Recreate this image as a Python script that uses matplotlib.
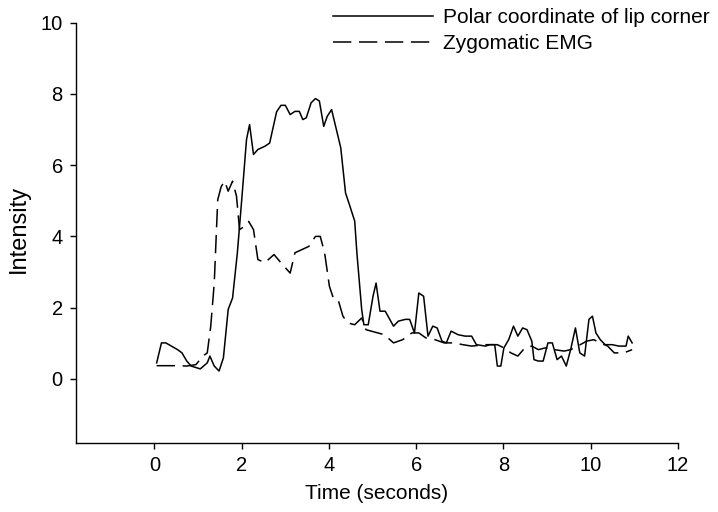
import matplotlib
matplotlib.use("Agg")
import matplotlib.pyplot as plt

plt.rcParams['font.family'] = ['Liberation Sans', 'DejaVu Sans']

# polar coordinate of lip corner (solid)
lip_time = [0.05, 0.16, 0.26, 0.53, 0.63, 0.74, 0.84, 1.05, 1.21, 1.27, 1.37, 1.48,
            1.58, 1.69, 1.79, 1.90, 2.00, 2.11, 2.18, 2.27, 2.37, 2.53, 2.64, 2.80,
            2.90, 3.00, 3.11, 3.22, 3.32, 3.40, 3.48, 3.59, 3.69, 3.78, 3.88, 3.96,
            4.06, 4.17, 4.27, 4.38, 4.48, 4.59, 4.64, 4.75, 4.80, 4.90, 5.01, 5.08,
            5.17, 5.29, 5.48, 5.59, 5.75, 5.85, 5.96, 6.06, 6.17, 6.27, 6.38, 6.48,
            6.59, 6.69, 6.80, 6.96, 7.12, 7.27, 7.38, 7.59, 7.69, 7.80, 7.86, 7.94,
            8.01, 8.12, 8.23, 8.33, 8.44, 8.54, 8.65, 8.70, 8.80, 8.91, 9.02, 9.12,
            9.23, 9.33, 9.44, 9.54, 9.65, 9.75, 9.86, 9.96, 10.04, 10.12, 10.22,
            10.33, 10.49, 10.65, 10.81, 10.86, 10.95]
lip_value = [0.45, 1.01, 1.01, 0.82, 0.73, 0.50, 0.36, 0.28, 0.45, 0.64, 0.36, 0.22,
             0.59, 1.95, 2.27, 3.54, 5.03, 6.72, 7.14, 6.30, 6.44, 6.53, 6.62, 7.50,
             7.68, 7.68, 7.42, 7.51, 7.51, 7.28, 7.33, 7.75, 7.87, 7.80, 7.09, 7.37,
             7.56, 7.00, 6.49, 5.22, 4.85, 4.43, 3.54, 1.95, 1.52, 1.52, 2.32, 2.69,
             1.90, 1.90, 1.48, 1.62, 1.67, 1.67, 1.29, 2.41, 2.32, 1.20, 1.48, 1.43,
             1.06, 1.01, 1.34, 1.24, 1.20, 1.20, 0.96, 0.92, 0.96, 0.96, 0.36, 0.36,
             0.87, 1.10, 1.48, 1.20, 1.43, 1.38, 1.06, 0.54, 0.50, 0.50, 1.01, 1.01,
             0.54, 0.64, 0.36, 0.82, 1.43, 0.73, 0.64, 1.67, 1.76, 1.29, 1.10,
             0.96, 0.96, 0.92, 0.92, 1.20, 1.01]

# zygomatic EMG (dashed)
emg_time = [0.05, 0.53, 0.74, 0.95, 1.11, 1.21, 1.29, 1.37, 1.45, 1.53, 1.61, 1.69,
            1.79, 1.88, 1.95, 2.06, 2.16, 2.27, 2.37, 2.53, 2.74, 2.90, 3.11, 3.22,
            3.38, 3.54, 3.69, 3.80, 3.90, 4.01, 4.11, 4.22, 4.32, 4.43, 4.59, 4.75,
            4.85, 5.12, 5.27, 5.48, 5.69, 5.90, 6.06, 6.22, 6.43, 6.64, 6.86, 7.07,
            7.27, 7.59, 7.86, 8.01, 8.17, 8.33, 8.49, 8.65, 8.80, 8.96, 9.17, 9.39,
            9.54, 9.70, 9.91, 10.07, 10.22, 10.39, 10.54, 10.76, 10.95]
emg_value = [0.37, 0.37, 0.36, 0.40, 0.64, 0.73, 1.48, 2.69, 5.03, 5.40, 5.55, 5.27,
             5.55, 5.13, 4.19, 4.28, 4.42, 4.19, 3.35, 3.26, 3.49, 3.26, 2.97, 3.54,
             3.63, 3.72, 4.00, 4.00, 3.54, 2.60, 2.23, 2.18, 1.76, 1.57, 1.52, 1.71,
             1.38, 1.29, 1.24, 1.01, 1.10, 1.29, 1.29, 1.15, 1.10, 1.01, 1.01, 0.96,
             0.92, 0.96, 0.96, 0.87, 0.73, 0.64, 0.87, 0.92, 0.82, 0.87, 0.82, 0.78,
             0.82, 0.92, 1.06, 1.10, 1.01, 0.92, 0.73, 0.73, 0.82]

x_ticks = [0, 2, 4, 6, 8, 10, 12]
y_ticks = [0, 2, 4, 6, 8, 10]

fig = plt.figure(figsize=(7.18, 5.12), dpi=100)
ax = fig.add_axes([0.1058, 0.1348, 0.8384, 0.8209])

ax.plot(lip_time, lip_value, color="black", linewidth=1.1,
        label="Polar coordinate of lip corner")
ax.plot(emg_time, emg_value, color="black", linewidth=1.1,
        linestyle=(0, (12, 5)), label="Zygomatic EMG")

ax.set_xlim(-1.8, 12)
ax.set_ylim(-1.8, 10)
ax.set_xticks(x_ticks)
ax.set_yticks(y_ticks)
ax.tick_params(labelsize=14.5, length=4.5, width=1.0, pad=5)

for side in ["top", "right"]:
    ax.spines[side].set_visible(False)
ax.spines["left"].set_bounds(-1.8, 10)
ax.spines["bottom"].set_bounds(-1.8, 12)
for side in ["left", "bottom"]:
    ax.spines[side].set_linewidth(1.0)

ax.set_xlabel("Time (seconds)", fontsize=15, labelpad=6)
ax.set_ylabel("Intensity", fontsize=17)
ax.yaxis.set_label_coords(-0.076, 0.51)

fig.legend(loc="upper left", bbox_to_anchor=(0.4638, 0.984), frameon=False,
           fontsize=15, handlelength=4.8, handletextpad=0.5,
           labelspacing=0.33, borderpad=0.0, borderaxespad=0.0)

fig.savefig("out.png", dpi=100)
